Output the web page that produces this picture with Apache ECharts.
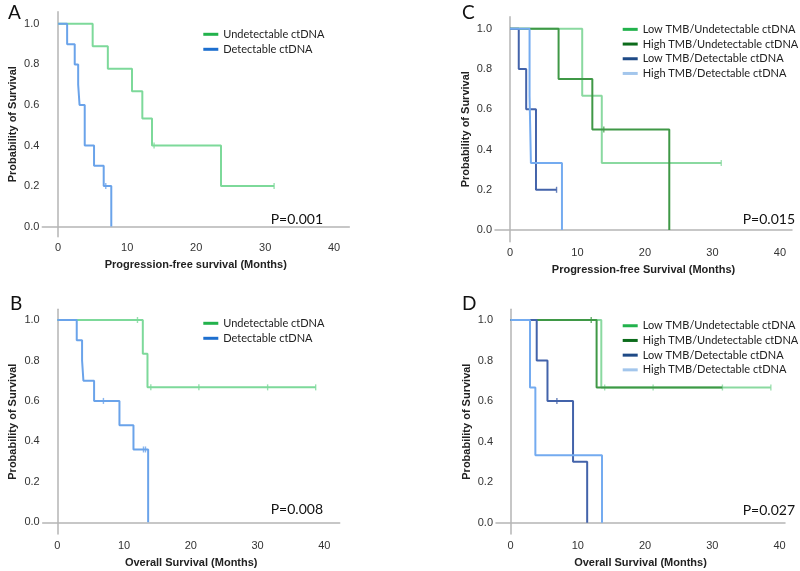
<!DOCTYPE html>
<html><head><meta charset="utf-8">
<script src="https://cdn.jsdelivr.net/npm/echarts@6/dist/echarts.min.js"></script>
<style>html,body{margin:0;padding:0;background:#fff}#c{width:800px;height:571px}</style>
</head><body><div id="c"></div>
<script>
// ---------- DATA ----------
var xTicks = [0, 10, 20, 30, 40];
var yTicks = [0, 0.2, 0.4, 0.6, 0.8, 1.0];

// Panel A : Progression-free survival
var A_undet_t = [0, 5.0, 7.2, 10.7, 12.2, 13.6, 23.6, 31.3];
var A_undet_s = [1, 0.889, 0.778, 0.667, 0.533, 0.40, 0.20, 0.20];
var A_undet_cens_t = [13.9, 31.3];
var A_undet_cens_s = [0.40, 0.20];
var A_det_t = [0, 1.3, 2.4, 2.9, 3.1, 3.85, 5.2, 6.6, 7.7];
var A_det_s = [1, 0.9, 0.8, 0.7, 0.6, 0.4, 0.3, 0.2, 0];
var A_det_cens_t = [6.9];
var A_det_cens_s = [0.2];

// Panel B : Overall survival
var B_undet_t = [0, 12.8, 13.5, 38.7];
var B_undet_s = [1, 0.833, 0.667, 0.667];
var B_undet_cens_t = [12.0, 14.0, 21.2, 31.5, 38.7];
var B_undet_cens_s = [1, 0.667, 0.667, 0.667, 0.667];
var B_det_t = [0, 2.9, 3.7, 3.9, 5.5, 9.3, 11.4, 13.6];
var B_det_s = [1, 0.9, 0.8, 0.7, 0.6, 0.48, 0.36, 0];
var B_det_cens_t = [6.9, 12.9, 13.2];
var B_det_cens_s = [0.6, 0.36, 0.36];

// Panel C : PFS by TMB
var C_lowU_t = [0, 10.7, 13.6, 31.3];
var C_lowU_s = [1, 0.667, 0.333, 0.333];
var C_lowU_cens_t = [31.3];
var C_lowU_cens_s = [0.333];
var C_highU_t = [0, 7.2, 12.2, 23.6];
var C_highU_s = [1, 0.75, 0.5, 0];
var C_highU_cens_t = [13.9];
var C_highU_cens_s = [0.5];
var C_lowD_t = [0, 1.3, 2.4, 3.85, 6.9];
var C_lowD_s = [1, 0.8, 0.6, 0.2, 0.2];
var C_lowD_cens_t = [6.9];
var C_lowD_cens_s = [0.2];
var C_highD_t = [0, 2.9, 3.1, 7.7];
var C_highD_s = [1, 0.667, 0.333, 0];

// Panel D : OS by TMB
var D_lowU_t = [0, 13.5, 38.7];
var D_lowU_s = [1, 0.667, 0.667];
var D_lowU_cens_t = [14.0, 21.2, 31.5, 38.7];
var D_lowU_cens_s = [0.667, 0.667, 0.667, 0.667];
var D_highU_t = [0, 12.8, 31.5];
var D_highU_s = [1, 0.667, 0.667];
var D_highU_cens_t = [12.0];
var D_highU_cens_s = [1];
var D_lowD_t = [0, 3.9, 5.5, 9.3, 11.4];
var D_lowD_s = [1, 0.8, 0.6, 0.3, 0];
var D_lowD_cens_t = [6.9];
var D_lowD_cens_s = [0.6];
var D_highD_t = [0, 2.9, 3.7, 13.6];
var D_highD_s = [1, 0.667, 0.333, 0];

var names2 = ['Undetectable ctDNA', 'Detectable ctDNA'];
var names4 = ['Low TMB/Undetectable ctDNA', 'High TMB/Undetectable ctDNA', 'Low TMB/Detectable ctDNA', 'High TMB/Detectable ctDNA'];
var pValues = ['P=0.001', 'P=0.008', 'P=0.015', 'P=0.027'];
var panelLetters = ['A', 'B', 'C', 'D'];
var xNames = ['Progression-free survival (Months)', 'Overall Survival (Months)', 'Progression-free Survival (Months)', 'Overall Survival (Months)'];

// ---------- STYLE ----------
var curveCol2 = ['#7dd99a', '#6aa3ea'];
var legendCol2 = ['#22b24c', '#1d6fcf'];
var curveCol4 = ['#8ad9a0', '#3f9846', '#4363aa', '#74abf0'];
var legendCol4 = ['#22b24c', '#0c6b1b', '#1e4a86', '#a3c6ec'];

var LBL = 'Liberation Sans, Arial, sans-serif';
var CAL = 'Lato, Carlito, sans-serif';

var grids = [
  {left: 42.3, top: 11.7, width: 307, height: 225, xmin: -2.3, xmax: 42.2, ymin: -0.05, ymax: 1.06},
  {left: 42.7, top: 309.3, width: 297, height: 224.7, xmin: -2.2, xmax: 42.3, ymin: -0.058, ymax: 1.053},
  {left: 495, top: 16.7, width: 297, height: 225, xmin: -2.22, xmax: 41.78, ymin: -0.058, ymax: 1.06},
  {left: 496, top: 309.3, width: 289, height: 224.7, xmin: -2.15, xmax: 40.8, ymin: -0.056, ymax: 1.053}
];

function zip(t, s) { return t.map(function (v, i) { return [v, s[i]]; }); }

var series = [];
function curve(name, t, s, color, gi) {
  series.push({
    name: name, type: 'line', step: 'end', xAxisIndex: gi, yAxisIndex: gi,
    data: zip(t, s), showSymbol: false, symbol: 'none',
    lineStyle: {color: color, width: 2}, itemStyle: {color: color}, silent: true
  });
}
function cens(name, t, s, color, gi) {
  series.push({
    name: name, type: 'scatter', xAxisIndex: gi, yAxisIndex: gi,
    data: zip(t, s), symbol: 'rect', symbolSize: [1.4, 6],
    itemStyle: {color: color}, silent: true
  });
}

curve(names2[0], A_undet_t, A_undet_s, curveCol2[0], 0);
cens(names2[0], A_undet_cens_t, A_undet_cens_s, curveCol2[0], 0);
curve(names2[1], A_det_t, A_det_s, curveCol2[1], 0);
cens(names2[1], A_det_cens_t, A_det_cens_s, curveCol2[1], 0);

curve(names2[0], B_undet_t, B_undet_s, curveCol2[0], 1);
cens(names2[0], B_undet_cens_t, B_undet_cens_s, curveCol2[0], 1);
curve(names2[1], B_det_t, B_det_s, curveCol2[1], 1);
cens(names2[1], B_det_cens_t, B_det_cens_s, curveCol2[1], 1);

curve(names4[0], C_lowU_t, C_lowU_s, curveCol4[0], 2);
cens(names4[0], C_lowU_cens_t, C_lowU_cens_s, curveCol4[0], 2);
curve(names4[1], C_highU_t, C_highU_s, curveCol4[1], 2);
cens(names4[1], C_highU_cens_t, C_highU_cens_s, curveCol4[1], 2);
curve(names4[2], C_lowD_t, C_lowD_s, curveCol4[2], 2);
cens(names4[2], C_lowD_cens_t, C_lowD_cens_s, curveCol4[2], 2);
curve(names4[3], C_highD_t, C_highD_s, curveCol4[3], 2);

curve(names4[0], D_lowU_t, D_lowU_s, curveCol4[0], 3);
cens(names4[0], D_lowU_cens_t, D_lowU_cens_s, curveCol4[0], 3);
curve(names4[1], D_highU_t, D_highU_s, curveCol4[1], 3);
cens(names4[1], D_highU_cens_t, D_highU_cens_s, curveCol4[1], 3);
curve(names4[2], D_lowD_t, D_lowD_s, curveCol4[2], 3);
cens(names4[2], D_lowD_cens_t, D_lowD_cens_s, curveCol4[2], 3);
curve(names4[3], D_highD_t, D_highD_s, curveCol4[3], 3);

var axisLineStyle = {show: true, lineStyle: {color: '#b5b5b5', width: 1.5}};
var xAxes = [], yAxes = [], gridOpts = [];
grids.forEach(function (g, i) {
  gridOpts.push({left: g.left, top: g.top, width: g.width, height: g.height, show: false, outerBoundsMode: 'none'});
  xAxes.push({
    type: 'value', gridIndex: i, min: g.xmin, max: g.xmax,
    axisLine: axisLineStyle, axisTick: {show: false}, splitLine: {show: false},
    axisLabel: {customValues: xTicks, margin: 6, color: '#333', fontFamily: LBL, fontSize: 11},
    name: xNames[i], nameLocation: 'middle', nameGap: 23,
    nameTextStyle: {fontFamily: LBL, fontWeight: 'bold', fontSize: 11, color: '#222'}
  });
  yAxes.push({
    type: 'value', gridIndex: i, min: g.ymin, max: g.ymax,
    axisLine: axisLineStyle, axisTick: {show: false}, splitLine: {show: false},
    axisLabel: {customValues: yTicks, margin: 3, color: '#333', fontFamily: LBL, fontSize: 11,
      formatter: function (v) { return v.toFixed(1); }},
    name: 'Probability of Survival', nameLocation: 'middle', nameGap: 24,
    nameTextStyle: {fontFamily: LBL, fontWeight: 'bold', fontSize: 11, color: '#222'}
  });
});

function legendOf(names, cols, left, top, lh, fs) {
  return {
    orient: 'vertical', left: left, top: top, padding: 0, itemGap: 0,
    itemWidth: 15, itemHeight: 3, icon: 'rect', selectedMode: false,
    textStyle: {fontFamily: CAL, fontSize: fs, color: '#222', lineHeight: lh, padding: [0, 0, 0, 0]},
    data: names.map(function (n, i) { return {name: n, icon: 'rect', itemStyle: {color: cols[i]}}; })
  };
}

var legends = [
  legendOf(names2, legendCol2, 203.3, 26.8, 15, 11),
  legendOf(names2, legendCol2, 203.3, 315.8, 15, 11),
  legendOf(names4, legendCol4, 622.7, 22, 14.7, 11),
  legendOf(names4, legendCol4, 622.7, 318.4, 14.7, 11)
];

var letterPos = [[8, 3], [10, 294], [462, 3], [462, 294]];
var pPos = [[323, 212], [323, 502.5], [795, 212], [795, 503]];
var graphics = [];
panelLetters.forEach(function (L, i) {
  graphics.push({type: 'text', x: letterPos[i][0], y: letterPos[i][1],
    style: {text: L, font: '19px ' + CAL, fill: '#111'}});
});
pValues.forEach(function (p, i) {
  graphics.push({type: 'text', x: pPos[i][0], y: pPos[i][1],
    style: {text: p, font: '14px ' + CAL, fill: '#111', textAlign: 'right'}});
});

var chart = echarts.init(document.getElementById('c'), null, {renderer: 'canvas'});
chart.setOption({
  animation: false,
  backgroundColor: '#fff',
  grid: gridOpts,
  xAxis: xAxes,
  yAxis: yAxes,
  legend: legends,
  graphic: graphics,
  series: series
});
</script></body></html>
